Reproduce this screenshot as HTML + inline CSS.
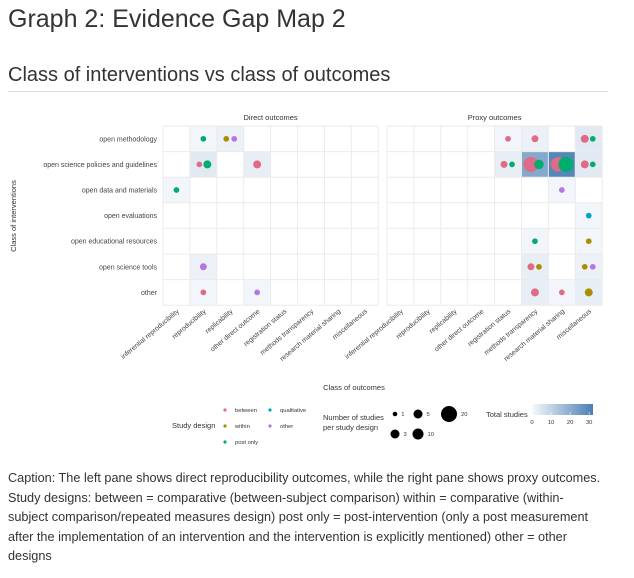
<!DOCTYPE html>
<html><head><meta charset="utf-8"><style>
body{margin:0;background:#fff;font-family:"Liberation Sans",sans-serif;color:#333;}
#wrap{position:relative;width:634px;height:578px;overflow:hidden;}
h1{position:absolute;left:8px;top:5px;margin:0;font-size:25px;font-weight:normal;color:#333;}
h2{position:absolute;left:8px;top:64px;margin:0;font-size:20px;font-weight:normal;color:#333;}
#rule{position:absolute;left:8px;top:91px;width:600px;height:1px;background:#ddd;}
#cap{position:absolute;left:8px;top:469px;width:626px;font-size:12.7px;line-height:19.6px;color:#333;white-space:nowrap;}
svg{position:absolute;left:0;top:0;}
</style></head><body>
<div id="wrap">
<h1>Graph 2: Evidence Gap Map 2</h1>
<h2>Class of interventions vs class of outcomes</h2>
<div id="rule"></div>
<svg id="chart" width="634" height="460"></svg>
<div id="cap">Caption: The left pane shows direct reproducibility outcomes, while the right pane shows proxy outcomes.<br>Study designs: between = comparative (between-subject comparison) within = comparative (within-<br>subject comparison/repeated measures design) post only = post-intervention (only a post measurement<br>after the implementation of an intervention and the intervention is explicitly mentioned) other = other<br>designs</div>
</div>
<script>
const interventions=["open methodology","open science policies and guidelines","open data and materials","open evaluations","open educational resources","open science tools","other"];
const outcomes=["inferential reproducibility","reproducibility","replicability","other direct outcome","registration status","methods transparency","research material sharing","miscellaneous"];
const panels=["Direct outcomes","Proxy outcomes"];
const designs=["between","within","post only","qualitative","other"];
const designColors=["#E16A86","#AA9000","#00AD6F","#00A6CA","#B675E0"];
// records: [panel, interventionIndex, outcomeIndex, designIndex, nStudies]
const records=[
[0,0,1,2,1],[0,0,2,1,1],[0,0,2,4,1],
[0,1,1,0,1],[0,1,1,2,3],[0,1,3,0,3],
[0,2,0,2,1],
[0,5,1,4,2],
[0,6,1,0,1],[0,6,3,4,1],
[1,0,4,0,1],[1,0,5,0,2],[1,0,7,0,3],[1,0,7,2,1],
[1,1,4,0,2],[1,1,4,2,1],[1,1,5,0,16],[1,1,5,2,5],[1,1,6,0,14],[1,1,6,2,16],[1,1,7,0,3],[1,1,7,2,1],
[1,2,6,4,1],
[1,3,7,3,1],
[1,4,5,2,1],[1,4,7,1,1],
[1,5,5,0,2],[1,5,5,1,1],[1,5,7,1,1],[1,5,7,4,1],
[1,6,5,0,3],[1,6,6,0,1],[1,6,7,1,3]
];
const sizeLegend=[1,3,5,10,20];
const fillTicks=[0,10,20,30];

const NS="http://www.w3.org/2000/svg";
const svg=document.getElementById('chart');
function mk(t,a,p){const e=document.createElementNS(NS,t);for(const k in a)e.setAttribute(k,a[k]);(p||svg).appendChild(e);return e;}
const panelX=[163,387],cw=26.9,top0=126,rh=25.6;
function xCell(p,j){return panelX[p]+j*cw;}
function yCell(i){return top0+i*rh;}
function rSize(n){return 1.3+1.55*Math.sqrt(n);}
function fillCol(t){const a=[247,249,252],b=[74,127,181];const f=Math.min(1,t/32);return 'rgb('+a.map((v,k)=>Math.round(v+(b[k]-v)*f)).join(',')+')';}

const totals={};
records.forEach(r=>{const k=r[0]+'_'+r[1]+'_'+r[2];totals[k]=(totals[k]||0)+r[4];});
for(const k in totals){const [p,i,j]=k.split('_').map(Number);
 const t=mk('rect',{x:xCell(p,j),y:yCell(i),width:cw,height:rh,fill:fillCol(totals[k])});
 
 }
panels.forEach((pn,p)=>{
 for(let j=0;j<=outcomes.length;j++){const l=mk('line',{x1:xCell(p,j),x2:xCell(p,j),y1:top0,y2:yCell(interventions.length),stroke:'#ebebeb','stroke-width':1});}
 for(let i=0;i<=interventions.length;i++){const l=mk('line',{x1:xCell(p,0),x2:xCell(p,outcomes.length),y1:yCell(i),y2:yCell(i),stroke:'#ebebeb','stroke-width':1});}
 const tt=mk('text',{x:xCell(p,outcomes.length/2),y:120,'font-size':7.5,'text-anchor':'middle',fill:'#333'});tt.textContent=pn;
 
 outcomes.forEach((o,j)=>{const cx=xCell(p,j)+cw/2;const t=mk('text',{x:cx+3,y:312,'font-size':6.8,'text-anchor':'end',fill:'#444',transform:'rotate(-40 '+(cx+3)+' 312)'});t.textContent=o;
  });
});
interventions.forEach((s,i)=>{const t=mk('text',{x:157,y:yCell(i)+rh/2+2.5,'font-size':7,'text-anchor':'end',fill:'#444'});t.textContent=s;
 });
const groups={};
records.forEach(r=>{const k=r[0]+'_'+r[1]+'_'+r[2];(groups[k]=groups[k]||[]).push(r);});
for(const k in groups){const g=groups[k];g.forEach((r,idx)=>{
 const off=g.length>1?(idx-(g.length-1)/2)*8:0;
 const c=mk('circle',{cx:xCell(r[0],r[2])+cw/2+off,cy:yCell(r[1])+rh/2,r:rSize(r[4]),fill:designColors[r[3]]});
 
 });}
let t=mk('text',{x:16,y:216,'font-size':7.5,'text-anchor':'middle',fill:'#333',transform:'rotate(-90 16 216)'});t.textContent='Class of interventions';

t=mk('text',{x:354,y:390,'font-size':7.5,'text-anchor':'middle',fill:'#333'});t.textContent='Class of outcomes';

t=mk('text',{x:172,y:428,'font-size':7.5,fill:'#333'});t.textContent='Study design';

const lpos=[[225,410],[225,426],[225,442],[270,410],[270,426]];
designs.forEach((d,k)=>{const c=mk('circle',{cx:lpos[k][0],cy:lpos[k][1],r:1.6,fill:designColors[k]});
 
 const tx=mk('text',{x:lpos[k][0]+10,y:lpos[k][1]+2,'font-size':5.8,fill:'#333'});tx.textContent=d;
 });
t=mk('text',{x:323,y:420,'font-size':7.5,fill:'#333'});t.textContent='Number of studies';

t=mk('text',{x:323,y:430,'font-size':7.5,fill:'#333'});t.textContent='per study design';

const spos=[[395,414],[395,434],[418,414],[418,434],[449,414]];
const sr=[2.3,4.5,4.5,5.5,8];
sizeLegend.forEach((n,k)=>{const c=mk('circle',{cx:spos[k][0],cy:spos[k][1],r:sr[k],fill:'#000'});
 
 const tx=mk('text',{x:spos[k][0]+sr[k]+4,y:spos[k][1]+2,'font-size':5.8,fill:'#333'});tx.textContent=n;
 });
t=mk('text',{x:486,y:417,'font-size':7.5,fill:'#333'});t.textContent='Total studies';

const defs=mk('defs',{});const lg=mk('linearGradient',{id:'gr'},defs);
mk('stop',{offset:'0','stop-color':fillCol(0)},lg);mk('stop',{offset:'1','stop-color':fillCol(32)},lg);
const bar=mk('rect',{x:532,y:404,width:61,height:11,fill:'url(#gr)'});

fillTicks.forEach(v=>{const x=532+v/32*61;const tx=mk('text',{x:x,y:424,'font-size':5.8,'text-anchor':'middle',fill:'#333'});tx.textContent=v;
 
 const l=mk('line',{x1:x,x2:x,y1:412,y2:415,stroke:'#fff','stroke-width':0.6});});
</script>
</body></html>
